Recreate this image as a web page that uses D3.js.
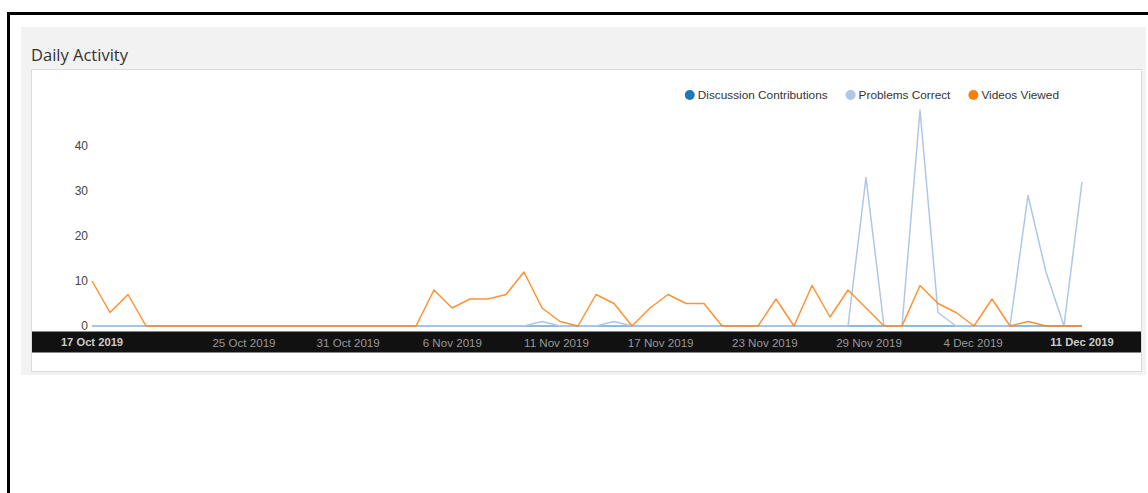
<!DOCTYPE html>
<html>
<head>
<meta charset="utf-8">
<script src="https://cdn.jsdelivr.net/npm/d3@7"></script>
<style>
  body { margin: 0; background: #fff; }
  svg { display: block; }
</style>
</head>
<body>
<svg></svg>
<script>
// one value per day, 17 Oct 2019 .. 11 Dec 2019
const firstDay = '2019-10-17';
const lastDay = '2019-12-11';
const seriesNames = ['Discussion Contributions', 'Problems Correct', 'Videos Viewed'];
const seriesColors = ['#1f77b4', '#aec7e8', '#ff7f0e'];

const discussion = [
    0, 0, 0, 0, 0, 0, 0, 0, 0, 0, 0, 0, 0, 0, 0, 0, 0, 0, 0, 0,
    0, 0, 0, 0, 0, 0, 0, 0, 0, 0, 0, 0, 0, 0, 0, 0, 0, 0, 0, 0,
    0, 0, 0, 0, 0, 0, 0, 0, 0, 0, 0, 0, 0, 0, 0, 0
];
const problems = [
    0, 0, 0, 0, 0, 0, 0, 0, 0, 0, 0, 0, 0, 0, 0, 0, 0, 0, 0, 0,
    0, 0, 0, 0, 0, 1, 0, 0, 0, 1, 0, 0, 0, 0, 0, 0, 0, 0, 0, 0,
    0, 0, 0, 33, 0, 0, 48, 3, 0, 0, 0, 0, 29, 12, 0, 32
];
const videos = [
    10, 3, 7, 0, 0, 0, 0, 0, 0, 0, 0, 0, 0, 0, 0, 0, 0, 0, 0, 8,
    4, 6, 6, 7, 12, 4, 1, 0, 7, 5, 0, 4, 7, 5, 5, 0, 0, 0, 6, 0,
    9, 2, 8, 4, 0, 0, 9, 5, 3, 0, 6, 0, 1, 0, 0, 0
];
const yTicks = [0, 10, 20, 30, 40];

const width = 1148;
const height = 493;
const svg = d3.select('svg').attr('width', width).attr('height', height);
const font = 'Arial, "Liberation Sans", sans-serif';

const days = d3.utcDay.range(new Date(firstDay), d3.utcDay.offset(new Date(lastDay), 1));
const allSeries = [discussion, problems, videos];

// frame + panel
svg.append('rect').attr('x', 0).attr('y', 0).attr('width', width).attr('height', height).attr('fill', '#fff');
svg.append('rect').attr('x', 21).attr('y', 27).attr('width', 1125).attr('height', 348).attr('fill', '#f2f2f2');
svg.append('rect').attr('x', 31.5).attr('y', 69.5).attr('width', 1110).attr('height', 302)
    .attr('fill', '#fff').attr('stroke', '#dcdcdc');
svg.append('rect').attr('x', 7).attr('y', 12).attr('width', width - 7).attr('height', 3).attr('fill', '#000');
svg.append('rect').attr('x', 7).attr('y', 12).attr('width', 3).attr('height', height - 12).attr('fill', '#000');

svg.append('text')
    .attr('x', 31).attr('y', 61)
    .style('font-family', '"Open Sans", sans-serif')
    .style('font-size', '16.5px')
    .attr('fill', '#333')
    .text('Daily Activity');

//Scaling value
const xScale = d3.scaleLinear()
    .domain([days[0].getTime(), days[days.length - 1].getTime()])
    .range([92, 1082]);
const yScale = d3.scaleLinear()
    .domain([0, d3.max(allSeries.flat())])
    .range([326, 110]);

// y axis, labels only
const yAxis = d3.axisLeft(yScale).tickValues(yTicks).tickSize(0).tickPadding(4);
const gy = svg.append('g').attr('transform', 'translate(92,0)').call(yAxis);
gy.select('.domain').remove();
gy.selectAll('text')
    .style('font-family', font)
    .style('font-size', '12px')
    .attr('fill', '#444');

// dark x band
svg.append('rect').attr('x', 32).attr('y', 331.5).attr('width', 1109).attr('height', 21).attr('fill', '#111');

const fmt = d3.utcFormat('%-d %b %Y');
const domain = xScale.domain();
// nvd3 style: hide ticks that run into the min/max labels
const innerTicks = xScale.ticks(10)
    .filter(t => xScale(t) - xScale(domain[0]) > 60 && xScale(domain[1]) - xScale(t) > 60);

const gx = svg.append('g').attr('transform', 'translate(0,342.5)');
gx.selectAll('.tick').data(innerTicks).enter().append('text')
    .attr('class', 'tick')
    .attr('x', d => xScale(d))
    .attr('dy', '0.35em')
    .attr('text-anchor', 'middle')
    .style('font-family', font)
    .style('font-size', '11.6px')
    .attr('fill', '#999')
    .text(d => fmt(new Date(d)));
gx.selectAll('.maxmin').data(domain).enter().append('text')
    .attr('class', 'maxmin')
    .attr('x', d => xScale(d))
    .attr('dy', '0.35em')
    .attr('text-anchor', 'middle')
    .style('font-family', font)
    .style('font-size', '11.2px')
    .style('font-weight', 'bold')
    .attr('fill', '#ccc')
    .text(d => fmt(new Date(d)));

// lines (discussion stays under the light blue one)
const line = d3.line()
    .x((d, i) => xScale(days[i].getTime()))
    .y(d => yScale(d));
svg.selectAll('.series').data(allSeries).enter().append('path')
    .attr('class', 'series')
    .attr('d', d => line(d))
    .attr('fill', 'none')
    .attr('stroke', (d, i) => seriesColors[i])
    .attr('stroke-width', (d, i) => i === 0 ? 1 : 1.5)
    .attr('stroke-opacity', (d, i) => i === 2 ? 0.85 : 1)
    .attr('stroke-linejoin', 'round');

// legend, right aligned
const legend = svg.append('g');
const items = legend.selectAll('.item').data(seriesNames).enter().append('g').attr('class', 'item');
items.append('circle').attr('r', 5).attr('cy', 95).attr('fill', (d, i) => seriesColors[i]);
items.append('text')
    .attr('y', 95).attr('dy', '0.35em')
    .style('font-family', font)
    .style('font-size', '11.8px')
    .attr('fill', '#333')
    .text(d => d);
let right = 1059;
const nodes = items.nodes();
for (let i = nodes.length - 1; i >= 0; i--) {
    const item = d3.select(nodes[i]);
    const w = item.select('text').node().getComputedTextLength();
    const cx = right - w - 8;
    item.select('circle').attr('cx', cx);
    item.select('text').attr('x', cx + 8);
    right = cx - 23;
}
</script>
</body>
</html>
